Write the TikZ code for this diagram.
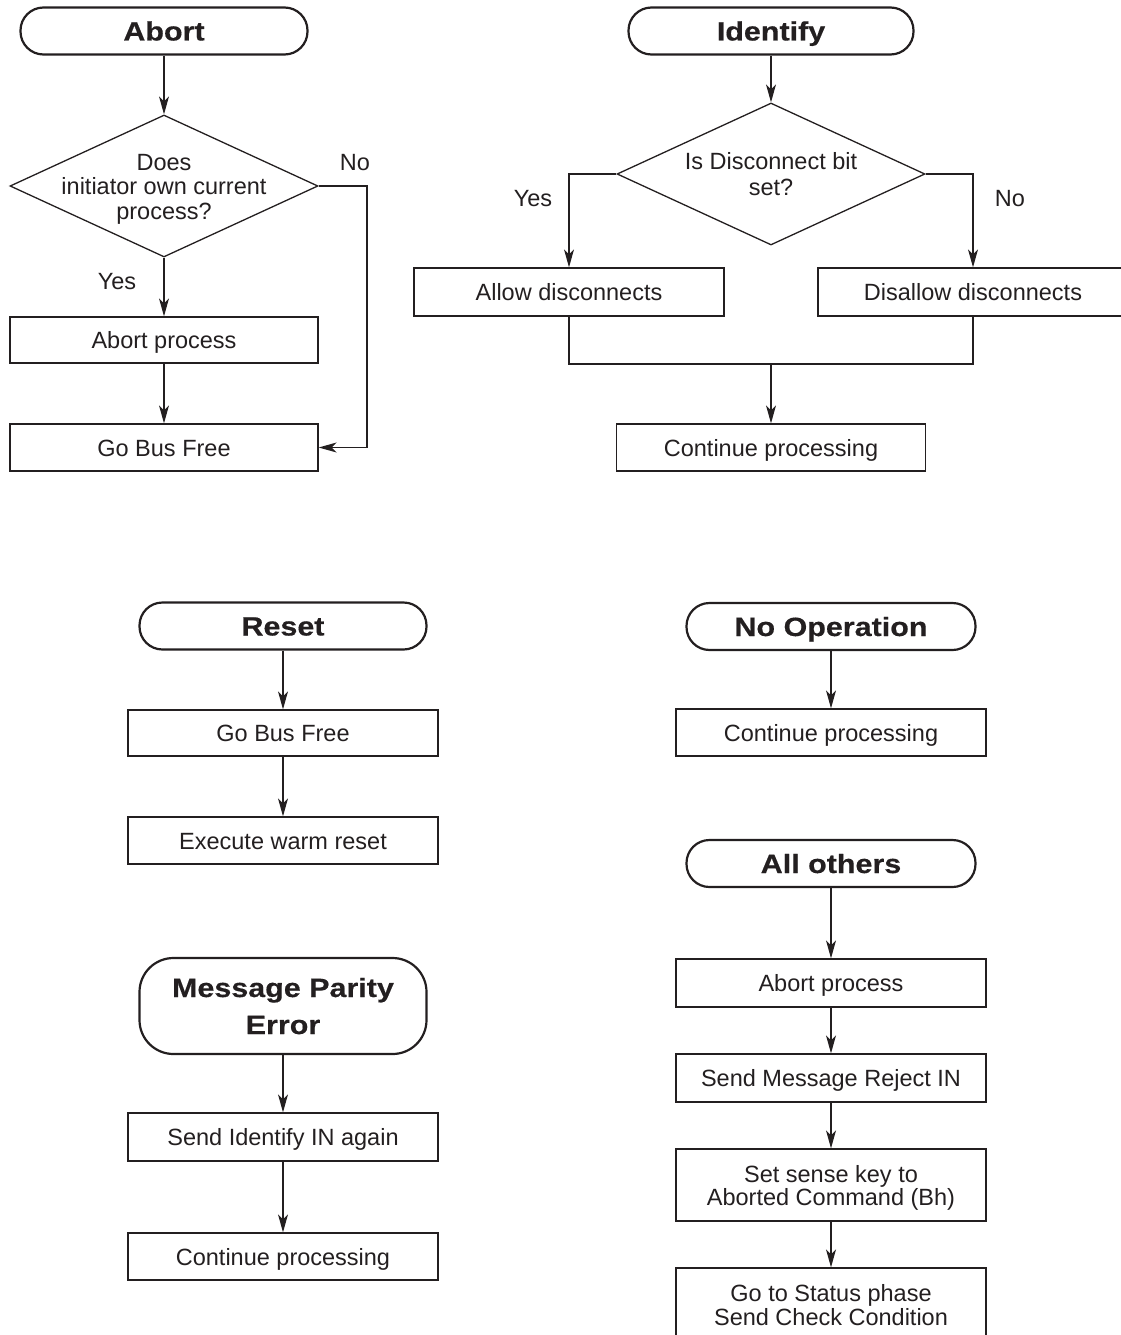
\documentclass[tikz,border=0pt]{standalone}
\usepackage{fontspec}
\setmainfont{Liberation Sans}
\newfontfamily\titlefont[FakeStretch=1.15,BoldFeatures={FakeBold=0.4}]{Liberation Sans}
\usetikzlibrary{shapes.geometric,arrows.meta}
\definecolor{ink}{HTML}{231F20}
\tikzset{
  stepbox/.style={draw=ink, line width=1.3pt, minimum width=310pt, minimum height=47pt, inner sep=0pt,
    text height=17pt, text depth=0pt,
    align=center, text=ink, font=\fontsize{23.5pt}{24pt}\selectfont},
  term/.style={draw=ink, line width=2.2pt, rounded corners=23pt, minimum width=287pt, minimum height=47pt,
    inner sep=0pt, text height=19pt, text depth=0pt,
    align=center, text=ink, font=\titlefont\bfseries\fontsize{26.5pt}{36pt}\selectfont},
  decide/.style={draw=ink, diamond, line width=1.3pt, minimum width=308pt, minimum height=142pt, inner sep=0pt},
  dtext/.style={align=center, text=ink, inner sep=0pt, text depth=0pt,
    font=\fontsize{23.5pt}{24.5pt}\selectfont},
  lbl/.style={text=ink, inner sep=0pt, text height=17pt, text depth=0pt, font=\fontsize{23.5pt}{24pt}\selectfont},
  arr/.style={draw=ink, line width=1.3pt, -{Stealth[length=18pt,width=10pt,inset=5pt]}},
  ln/.style={draw=ink, line width=1.3pt}
}
\begin{document}
\begin{tikzpicture}[x=1pt,y=-1pt]
\useasboundingbox (0,0) rectangle (1120,1335);

% ---------- Abort ----------
\node[term] (tA) at (164,31) {Abort};
\node[decide] (dA) at (164,186) {};
\node[dtext, text height=66pt] (dAt) at (dA.center) {Does\\initiator own current\\process?};
\node[stepbox, minimum width=308pt, minimum height=46pt] (bA1) at (164,340) {Abort process};
\node[stepbox, minimum width=308pt] (bA2) at (164,447.5) {Go Bus Free};
\node[lbl] (yA) at (117,281) {Yes};
\node[lbl] (nA) at (355,162) {No};
\coordinate (cA) at (367,186);
\draw[arr] (tA) -- (dA);
\draw[arr] (dA) -- (bA1);
\draw[arr] (bA1) -- (bA2);
\draw[arr] (dA.east) -- (cA) |- (bA2.east);

% ---------- Identify ----------
\node[term, minimum width=285pt] (tI) at (771,31) {Identify};
\node[decide] (dI) at (771,174) {};
\node[dtext, text height=43pt, font=\fontsize{23.5pt}{26pt}\selectfont] (dIt) at (dI.center) {Is Disconnect bit\\set?};
\node[stepbox, minimum height=48pt] (bI1) at (569,292) {Allow disconnects};
\node[stepbox, minimum height=48pt] (bI2) at (973,292) {Disallow disconnects};
\node[stepbox, minimum width=309pt] (bI3) at (771,447.5) {Continue processing};
\node[lbl] (yI) at (533,198) {Yes};
\node[lbl] (nI) at (1010,198) {No};
\coordinate (cI1) at (569,174);
\coordinate (cI2) at (973,174);
\coordinate (mI) at (771,364);
\draw[arr] (tI) -- (dI);
\draw[arr] (dI.west) -- (cI1) -- (bI1.north);
\draw[arr] (dI.east) -- (cI2) -- (bI2.north);
\draw[ln] (bI1.south) |- (mI) -| (bI2.south);
\draw[arr] (mI) -- (bI3.north);

% ---------- Reset ----------
\node[term] (tR) at (283,626) {Reset};
\node[stepbox, minimum height=46pt] (bR1) at (283,733) {Go Bus Free};
\node[stepbox] (bR2) at (283,840.5) {Execute warm reset};
\draw[arr] (tR) -- (bR1);
\draw[arr] (bR1) -- (bR2);

% ---------- Message Parity Error ----------
\node[term, minimum height=96pt, rounded corners=34pt, text height=56pt, font=\titlefont\bfseries\fontsize{26.5pt}{37pt}\selectfont] (tM) at (283,1006) {Message Parity\\Error};
\node[stepbox, minimum height=48pt] (bM1) at (283,1137) {Send Identify IN again};
\node[stepbox] (bM2) at (283,1256.5) {Continue processing};
\draw[arr] (tM) -- (bM1);
\draw[arr] (bM1) -- (bM2);

% ---------- No Operation ----------
\node[term, minimum width=289pt] (tN) at (831,626.5) {No Operation};
\node[stepbox] (bN1) at (831,732.5) {Continue processing};
\draw[arr] (tN) -- (bN1);

% ---------- All others ----------
\node[term, minimum width=289pt] (tO) at (831,863.5) {All others};
\node[stepbox, minimum height=48pt] (bO1) at (831,983) {Abort process};
\node[stepbox, minimum height=48pt] (bO2) at (831,1078) {Send Message Reject IN};
\node[stepbox, minimum height=72pt, text height=40pt, font=\fontsize{23.5pt}{23pt}\selectfont] (bO3) at (831,1185) {Set sense key to\\Aborted Command (Bh)};
\node[stepbox, minimum height=74pt, text height=41pt, font=\fontsize{23.5pt}{24pt}\selectfont] (bO4) at (831,1305) {Go to Status phase\\Send Check Condition};
\draw[arr] (tO) -- (bO1);
\draw[arr] (bO1) -- (bO2);
\draw[arr] (bO2) -- (bO3);
\draw[arr] (bO3) -- (bO4);
\end{tikzpicture}
\end{document}
